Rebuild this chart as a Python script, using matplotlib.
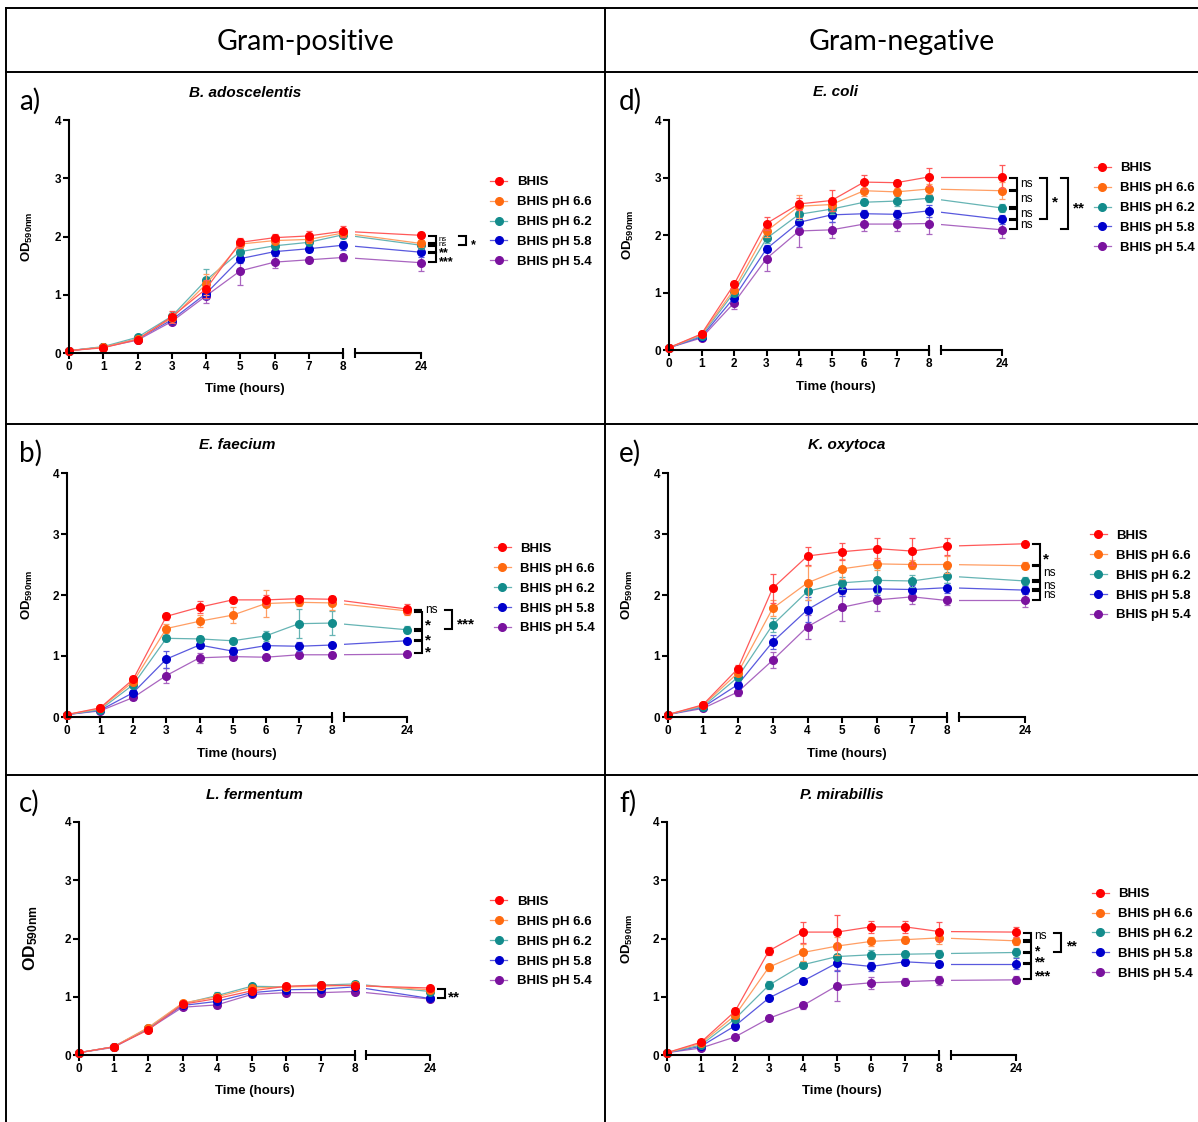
import matplotlib
matplotlib.use('Agg')
import matplotlib.pyplot as plt
from matplotlib.lines import Line2D
from matplotlib.colors import to_rgb
import numpy as np

plt.rcParams['font.family'] = ['Liberation Sans', 'DejaVu Sans']
plt.rcParams['mathtext.fontset'] = 'custom'
plt.rcParams['mathtext.rm'] = 'Liberation Sans'
plt.rcParams['mathtext.bf'] = 'Liberation Sans:bold'

# ___DATA___ #
TIMES = [0, 1, 2, 3, 4, 5, 6, 7, 8, 24]
SERIES = ['BHIS', 'BHIS pH 6.6', 'BHIS pH 6.2', 'BHIS pH 5.8', 'BHIS pH 5.4']
COLORS = ['#FF0000', '#FF6A10', '#138C8C', '#0000CC', '#7A129E']

# a) B. adoscelentis
BADO_MEAN = [
    [0.04, 0.09, 0.23, 0.62, 1.10, 1.90, 1.98, 2.01, 2.09, 2.02],
    [0.04, 0.10, 0.24, 0.60, 1.18, 1.87, 1.93, 1.95, 2.06, 1.88],
    [0.04, 0.11, 0.27, 0.63, 1.25, 1.74, 1.84, 1.90, 2.03, 1.85],
    [0.04, 0.10, 0.24, 0.57, 1.02, 1.62, 1.74, 1.79, 1.85, 1.73],
    [0.04, 0.10, 0.22, 0.54, 0.98, 1.41, 1.56, 1.60, 1.64, 1.55],
]
BADO_SD = [
    [0.01, 0.02, 0.03, 0.10, 0.15, 0.08, 0.07, 0.09, 0.09, 0.05],
    [0.01, 0.02, 0.03, 0.08, 0.18, 0.06, 0.05, 0.06, 0.07, 0.06],
    [0.01, 0.02, 0.03, 0.06, 0.20, 0.06, 0.05, 0.05, 0.06, 0.06],
    [0.01, 0.02, 0.03, 0.05, 0.10, 0.08, 0.07, 0.06, 0.08, 0.09],
    [0.01, 0.02, 0.03, 0.05, 0.12, 0.25, 0.10, 0.04, 0.06, 0.15],
]
BADO_SIG = [(0, 1, 'ns', 0), (1, 2, 'ns', 0), (2, 3, '**', 0), (3, 4, '***', 0), (0, 2, '*', 1)]

# b) E. faecium
EFAE_MEAN = [
    [0.04, 0.15, 0.62, 1.65, 1.80, 1.92, 1.92, 1.94, 1.93, 1.77],
    [0.04, 0.14, 0.58, 1.45, 1.57, 1.67, 1.86, 1.88, 1.87, 1.74],
    [0.04, 0.12, 0.53, 1.29, 1.28, 1.25, 1.33, 1.53, 1.54, 1.43],
    [0.04, 0.11, 0.40, 0.95, 1.18, 1.08, 1.17, 1.16, 1.18, 1.25],
    [0.04, 0.10, 0.32, 0.68, 0.97, 0.99, 0.98, 1.02, 1.02, 1.03],
]
EFAE_SD = [
    [0.01, 0.02, 0.05, 0.06, 0.10, 0.04, 0.08, 0.05, 0.06, 0.08],
    [0.01, 0.02, 0.04, 0.07, 0.10, 0.13, 0.22, 0.06, 0.12, 0.06],
    [0.01, 0.02, 0.04, 0.05, 0.04, 0.04, 0.08, 0.24, 0.19, 0.06],
    [0.01, 0.02, 0.04, 0.14, 0.05, 0.07, 0.05, 0.07, 0.04, 0.03],
    [0.01, 0.02, 0.04, 0.12, 0.08, 0.06, 0.04, 0.04, 0.04, 0.03],
]
EFAE_SIG = [(0, 1, 'ns', 0), (1, 2, '*', 0), (2, 3, '*', 0), (3, 4, '*', 0), (0, 2, '***', 1)]

# c) L. fermentum
LFER_MEAN = [
    [0.04, 0.14, 0.43, 0.87, 0.97, 1.10, 1.18, 1.20, 1.19, 1.15],
    [0.04, 0.14, 0.47, 0.89, 1.00, 1.15, 1.17, 1.18, 1.20, 1.12],
    [0.04, 0.14, 0.46, 0.88, 1.02, 1.18, 1.17, 1.20, 1.22, 1.09],
    [0.04, 0.14, 0.45, 0.85, 0.92, 1.07, 1.12, 1.13, 1.17, 0.97],
    [0.04, 0.13, 0.44, 0.82, 0.86, 1.04, 1.07, 1.07, 1.09, 0.96],
]
LFER_SD = [
    [0.01, 0.02, 0.03, 0.03, 0.04, 0.04, 0.04, 0.06, 0.04, 0.03],
    [0.01, 0.02, 0.03, 0.03, 0.04, 0.03, 0.03, 0.04, 0.04, 0.03],
    [0.01, 0.02, 0.03, 0.03, 0.06, 0.03, 0.03, 0.04, 0.05, 0.03],
    [0.01, 0.02, 0.03, 0.03, 0.04, 0.03, 0.03, 0.03, 0.04, 0.04],
    [0.01, 0.02, 0.03, 0.03, 0.05, 0.03, 0.03, 0.03, 0.03, 0.03],
]
LFER_SIG = [(0, 3, '**', 0)]

# d) E. coli
ECOL_MEAN = [
    [0.04, 0.28, 1.14, 2.20, 2.54, 2.60, 2.92, 2.91, 3.01, 3.01],
    [0.04, 0.27, 1.05, 2.07, 2.50, 2.53, 2.77, 2.75, 2.80, 2.77],
    [0.04, 0.25, 1.00, 1.94, 2.36, 2.45, 2.57, 2.59, 2.64, 2.47],
    [0.04, 0.23, 0.91, 1.76, 2.22, 2.35, 2.37, 2.36, 2.42, 2.27],
    [0.04, 0.21, 0.82, 1.59, 2.07, 2.09, 2.19, 2.19, 2.20, 2.09],
]
ECOL_SD = [
    [0.01, 0.03, 0.06, 0.12, 0.10, 0.18, 0.12, 0.05, 0.15, 0.20],
    [0.01, 0.03, 0.05, 0.10, 0.20, 0.12, 0.10, 0.06, 0.08, 0.15],
    [0.01, 0.02, 0.05, 0.08, 0.10, 0.08, 0.05, 0.08, 0.06, 0.07],
    [0.01, 0.02, 0.05, 0.06, 0.08, 0.12, 0.06, 0.08, 0.10, 0.07],
    [0.01, 0.02, 0.10, 0.22, 0.27, 0.14, 0.12, 0.12, 0.18, 0.15],
]
ECOL_SIG = [(0, 1, 'ns', 0), (1, 2, 'ns', 0), (2, 3, 'ns', 0), (3, 4, 'ns', 0),
            (0, 3, '*', 1), (0, 4, '**', 2)]

# e) K. oxytoca
KOXY_MEAN = [
    [0.04, 0.20, 0.79, 2.11, 2.64, 2.71, 2.76, 2.72, 2.80, 2.84],
    [0.04, 0.19, 0.72, 1.78, 2.20, 2.43, 2.51, 2.50, 2.50, 2.48],
    [0.04, 0.17, 0.65, 1.51, 2.06, 2.20, 2.24, 2.23, 2.31, 2.23],
    [0.04, 0.16, 0.53, 1.23, 1.76, 2.09, 2.10, 2.09, 2.12, 2.08],
    [0.04, 0.14, 0.41, 0.93, 1.48, 1.80, 1.92, 1.97, 1.91, 1.91],
]
KOXY_SD = [
    [0.01, 0.02, 0.06, 0.24, 0.14, 0.14, 0.18, 0.22, 0.14, 0.03],
    [0.01, 0.02, 0.05, 0.13, 0.28, 0.16, 0.10, 0.08, 0.14, 0.06],
    [0.01, 0.02, 0.05, 0.12, 0.15, 0.10, 0.20, 0.10, 0.12, 0.06],
    [0.01, 0.02, 0.06, 0.12, 0.20, 0.10, 0.10, 0.08, 0.08, 0.06],
    [0.01, 0.02, 0.06, 0.13, 0.20, 0.22, 0.18, 0.12, 0.08, 0.10],
]
KOXY_SIG = [(0, 1, '*', 0), (1, 2, 'ns', 0), (2, 3, 'ns', 0), (3, 4, 'ns', 0)]

# f) P. mirabillis
PMIR_MEAN = [
    [0.04, 0.22, 0.75, 1.79, 2.11, 2.11, 2.20, 2.20, 2.12, 2.11],
    [0.04, 0.20, 0.68, 1.51, 1.76, 1.87, 1.95, 1.98, 2.01, 1.96],
    [0.04, 0.17, 0.62, 1.20, 1.55, 1.69, 1.72, 1.73, 1.74, 1.76],
    [0.04, 0.15, 0.50, 0.98, 1.27, 1.58, 1.52, 1.60, 1.57, 1.57],
    [0.04, 0.12, 0.31, 0.63, 0.85, 1.19, 1.24, 1.26, 1.28, 1.29],
]
PMIR_SD = [
    [0.01, 0.02, 0.05, 0.07, 0.18, 0.30, 0.10, 0.10, 0.16, 0.09],
    [0.01, 0.02, 0.04, 0.06, 0.15, 0.15, 0.08, 0.06, 0.10, 0.07],
    [0.01, 0.02, 0.04, 0.07, 0.04, 0.05, 0.08, 0.06, 0.06, 0.08],
    [0.01, 0.02, 0.03, 0.04, 0.04, 0.13, 0.07, 0.05, 0.04, 0.09],
    [0.01, 0.02, 0.03, 0.04, 0.06, 0.27, 0.10, 0.06, 0.08, 0.06],
]
PMIR_SIG = [(0, 1, 'ns', 0), (1, 2, '*', 0), (2, 3, '**', 0), (3, 4, '***', 0), (0, 2, '**', 1)]

# ___LAYOUT (pixels) ___ #
W, H = 1198, 1122
# y-axis x, x of 8h, start of 2nd segment, x of 24h, y of 0, y of 4
GEOM = {
    'a': (69, 343, 355, 421, 353, 120),
    'b': (67, 332, 344, 407, 717, 473),
    'c': (79, 355, 366, 430, 1055, 822),
    'd': (669, 929, 941, 1002, 350, 120),
    'e': (668, 947, 959, 1025, 717, 473),
    'f': (667, 939, 951, 1016, 1055, 822),
}
# legend: marker x, first row y, last row y
LEGEND = {
    'a': (499, 179, 265), 'b': (502, 544, 633), 'c': (499, 899, 984),
    'd': (1102, 166, 250), 'e': (1098, 531, 620), 'f': (1100, 891, 977),
}
# (x, y) of panel letter, title y, xlabel y, ylabel x
TEXTPOS = {
    'a': (19, 101, 93, 389, 27), 'b': (19, 453, 445, 754, 27), 'c': (19, 803, 795, 1091, 31),
    'd': (619, 101, 92, 387, 628), 'e': (619, 453, 445, 754, 627), 'f': (619, 803, 795, 1091, 627),
}
SIG_OFFSETS = [(8, 15, 18), (38, 45, 50), (59, 66, 71)]  # px right of 24h point


def lighten(c, f=0.35):
    r, g, b = to_rgb(c)
    return (r + (1 - r) * f, g + (1 - g) * f, b + (1 - b) * f)


def style_ticks(ax):
    ax.tick_params(width=1.5, length=4, labelsize=8.5, pad=1.5, color='black')
    for lbl in ax.get_xticklabels() + ax.get_yticklabels():
        lbl.set_fontweight('bold')


def draw_panel(fig, key, title, means, sds, sigs, ylab_size, ns_size, star_size):
    x0, x8, s2, x24, y0, y4 = GEOM[key]
    axl = fig.add_axes([x0 / W, 1 - y0 / H, (x8 - x0) / W, (y0 - y4) / H])
    axr = fig.add_axes([s2 / W, 1 - y0 / H, (x24 - s2) / W, (y0 - y4) / H])
    axl.patch.set_alpha(0)
    axr.patch.set_alpha(0)

    # right segment starts where a straight screen line from 8h to 24h would be
    x_left = (24 * x8 - 16 * s2 - 8 * x24) / (x8 - x24)
    px_per_h = (x24 - s2) / (24 - x_left)

    t = np.array(TIMES)
    early = t <= 8
    for k in reversed(range(len(SERIES))):
        m = np.array(means[k])
        s = np.array(sds[k])
        c = COLORS[k]
        lc = lighten(c)
        eb = axl.errorbar(t[early], m[early], yerr=s[early], fmt='none', ecolor=lc,
                          elinewidth=0.9, capsize=2.5, capthick=0.9)
        for art in eb.get_children():
            art.set_clip_on(False)
        axl.plot(t[early], m[early], '-o', color=lc, lw=0.9, ms=5.5, mfc=c, mec=c,
                 clip_on=False)
        axr.plot(t[-2:], m[-2:], '-', color=lc, lw=0.9)
        eb = axr.errorbar(t[-1:], m[-1:], yerr=s[-1:], fmt='none', ecolor=lc,
                          elinewidth=0.9, capsize=2.5, capthick=0.9)
        for art in eb.get_children():
            art.set_clip_on(False)
        axr.plot(t[-1:], m[-1:], 'o', ms=5.5, mfc=c, mec=c, clip_on=False)

    axl.set_xlim(0, 8)
    axl.set_ylim(0, 4)
    axr.set_xlim(x_left, 24)
    axr.set_ylim(0, 4)
    axl.set_xticks(range(9))
    axl.set_yticks(range(5))
    axr.set_xticks([24])
    axr.set_yticks([])
    for sp in ['top', 'right']:
        axl.spines[sp].set_visible(False)
    for sp in ['top', 'right', 'left']:
        axr.spines[sp].set_visible(False)
    for ax in (axl, axr):
        for sp in ax.spines.values():
            sp.set_linewidth(1.5)
        style_ticks(ax)
    # break caps
    axl.plot([8], [0], marker='|', ms=7, mew=1.5, color='black', clip_on=False)
    axr.plot([x_left], [0], marker='|', ms=7, mew=1.5, color='black', clip_on=False)

    # significance brackets at 24h
    for i, j, label, level in sigs:
        ya = means[i][-1] - 0.012
        yb = means[j][-1] + 0.012
        a, b, tx = SIG_OFFSETS[level]
        xa = 24 + a / px_per_h
        xb = 24 + b / px_per_h
        axr.plot([xa, xb, xb, xa], [ya, ya, yb, yb], color='black', lw=1.5,
                 clip_on=False, solid_joinstyle='miter')
        ym = (ya + yb) / 2
        if label == 'ns':
            axr.text(24 + tx / px_per_h, ym, label, fontsize=ns_size, ha='left',
                     va='center', clip_on=False)
        else:
            axr.text(24 + tx / px_per_h, ym - 0.08, label, fontsize=star_size,
                     fontweight='bold', ha='left', va='center', clip_on=False)

    # legend
    mx, r1, r5 = LEGEND[key]
    handles = [Line2D([], [], color=lighten(c), lw=0.9, marker='o', ms=5.5, mfc=c, mec=c)
               for c in COLORS]
    fs = 9.5
    hl = 17 * 0.72 / fs
    axl.legend(handles, SERIES, loc='center left',
               bbox_to_anchor=((mx - 8.5) / W, 1 - (r1 + r5) / 2 / H),
               bbox_transform=fig.transFigure, frameon=False, borderpad=0,
               borderaxespad=0, handlelength=hl, handletextpad=0.7,
               labelspacing=0.58, prop={'weight': 'bold', 'size': fs})

    # texts
    lx, ly, ty, xly, ylx = TEXTPOS[key]
    cx = (x0 + x24) / 2
    fig.text(lx / W, 1 - ly / H, key + ')', fontsize=20, family='Lato',
             ha='left', va='center')
    fig.text(cx / W, 1 - ty / H, title, fontsize=11, fontweight='bold',
             fontstyle='italic', ha='center', va='center')
    fig.text(cx / W, 1 - xly / H, 'Time (hours)', fontsize=9.5, fontweight='bold',
             ha='center', va='center')
    fig.text(ylx / W, 1 - (y0 + y4) / 2 / H, r'$\mathbf{OD_{590nm}}$', fontsize=ylab_size,
             rotation=90, ha='center', va='center')


def main():
    fig = plt.figure(figsize=(W / 100, H / 100), dpi=100)

    # table frame
    for y in (8, 72, 424, 775):
        fig.add_artist(Line2D([6 / W, 1], [1 - y / H, 1 - y / H], color='black', lw=1.4,
                              transform=fig.transFigure))
    for x in (6, 605):
        fig.add_artist(Line2D([x / W, x / W], [1 - 8 / H, 0], color='black', lw=1.4,
                              transform=fig.transFigure))
    fig.text(305 / W, 1 - 42 / H, 'Gram-positive', fontsize=20.5, family='Lato',
             ha='center', va='center')
    fig.text(902 / W, 1 - 42 / H, 'Gram-negative', fontsize=20.5, family='Lato',
             ha='center', va='center')

    panels = [
        ('a', 'B. adoscelentis', BADO_MEAN, BADO_SD, BADO_SIG, 9.5, 5.5, 9),
        ('b', 'E. faecium', EFAE_MEAN, EFAE_SD, EFAE_SIG, 9.5, 8.5, 11),
        ('c', 'L. fermentum', LFER_MEAN, LFER_SD, LFER_SIG, 12.5, 8.5, 11),
        ('d', 'E. coli', ECOL_MEAN, ECOL_SD, ECOL_SIG, 9.5, 8.5, 11),
        ('e', 'K. oxytoca', KOXY_MEAN, KOXY_SD, KOXY_SIG, 9.5, 8.5, 11),
        ('f', 'P. mirabillis', PMIR_MEAN, PMIR_SD, PMIR_SIG, 9.5, 8.5, 10),
    ]
    for key, title, means, sds, sigs, ylab, ns_size, star_size in panels:
        draw_panel(fig, key, title, means, sds, sigs, ylab, ns_size, star_size)

    fig.savefig('out.png', dpi=100)


if __name__ == '__main__':
    main()
